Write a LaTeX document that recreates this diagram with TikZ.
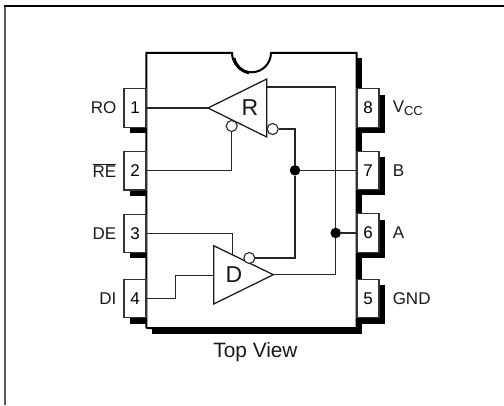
\documentclass[tikz,border=0pt]{standalone}
\usepackage{fontspec}
\setmainfont{Liberation Sans}
\usetikzlibrary{positioning}
\tikzset{
  pin/.style={draw=black!80, fill=white, line width=1.1pt, inner sep=0pt, minimum width=22pt, minimum height=38.5pt, font=\fontsize{17}{18}\selectfont},
  pinname/.style={inner sep=0pt, text=black!90, font=\fontsize{17}{18}\selectfont},
  amp/.style={inner sep=0pt, text=black!90, font=\fontsize{23}{24}\selectfont},
  bubble/.style={circle, draw=black!85, fill=white, line width=1.1pt, inner sep=0pt, minimum size=11pt},
  junction/.style={circle, fill=black, inner sep=0pt, minimum size=10.5pt},
  wire/.style={draw=black!85, line width=1.25pt},
  gate/.style={draw=black!90, line width=1.25pt, line join=miter},
  shade/.style={fill=black}
}
\begin{document}
\begin{tikzpicture}[x=1pt,y=-1pt]
 \useasboundingbox (0,0) rectangle (504,405);
% frame
 \draw[black!65, line width=2pt] (5,405) -- (5,6);
 \draw[black, line width=1.5pt] (4,6) -- (504,6);
% package shadow
 \fill[shade] (356,58) rectangle (362,334);
 \fill[shade] (152,327) rectangle (362,334);
 \fill[shade] (130,127) rectangle (147,133);
 \fill[shade] (130,190) rectangle (147,195.5);
 \fill[shade] (130,252.5) rectangle (147,258);
 \fill[shade] (130,318) rectangle (147,323.5);
 \fill[shade] (357,95) rectangle (385,133);
 \fill[shade] (357,157) rectangle (385,195);
 \fill[shade] (357,220) rectangle (385,258);
 \fill[shade] (357,285) rectangle (385,324);
% package
 \draw[black, line width=2pt] (146.3,328) -- (146.3,52.8) -- (232,52.8)
   arc[start angle=180, end angle=0, radius=19.5] -- (356.7,52.8) -- (356.7,328) -- (146.3,328);
 \draw[black, line width=3pt] (234,58) arc[start angle=170, end angle=98, radius=18];
% pins
 \node[pin] (p1) at (135,108) {1};
 \node[pin] (p2) at (135,170.7) {2};
 \node[pin] (p3) at (135,233.5) {3};
 \node[pin] (p4) at (135,298.5) {4};
 \node[pin] (p8) at (368,108) {8};
 \node[pin] (p7) at (368,170.3) {7};
 \node[pin] (p6) at (368,233) {6};
 \node[pin] (p5) at (368,298.5) {5};
% pin names
 \node[pinname, left=7pt of p1] (ro) {RO};
 \node[pinname, left=7pt of p2] (re) {$\overline{\mbox{RE}}$};
 \node[pinname, left=7pt of p3] (de) {DE};
 \node[pinname, left=7pt of p4] (di) {DI};
 \node[pinname, right=13pt of p8] (vcc) {V\raisebox{-3pt}{\fontsize{13}{14}\selectfont CC}};
 \node[pinname, right=13pt of p7] (b) {B};
 \node[pinname, right=13pt of p6] (a) {A};
 \node[pinname, right=13pt of p5] (gnd) {GND};
 \node[font=\fontsize{20.8}{22}\selectfont, text=black!90, inner sep=0pt] (top) at (255.5,352.5) {Top View};
% receiver
 \coordinate (rtip) at (208,108);
 \coordinate (rtop) at (266.7,79);
 \coordinate (rbot) at (266.7,137);
 \coordinate (rsup) at (266.7,87);
 \draw[gate] (rtip) -- (rtop) -- (rbot) -- cycle;
 \node[amp] (r) at (250,108) {R};
 \node[bubble] (rre) at (231.7,126) {};
 \node[bubble] (rb) at (272.7,129) {};
% driver
 \coordinate (dtip) at (273.3,274.7);
 \coordinate (dtop) at (213.7,245.7);
 \coordinate (dbot) at (213.7,304);
 \coordinate (din) at (213.7,275.7);
 \coordinate (den) at (232.7,255);
 \draw[gate] (dtip) -- (dtop) -- (dbot) -- cycle;
 \node[amp] (d) at (234,275) {D};
 \node[bubble] (db) at (249.3,258) {};
% junctions
 \node[junction] (jb) at (295,170.3) {};
 \node[junction] (ja) at (335.7,233) {};
% wires
 \draw[wire] (p1.east) -- (rtip);
 \draw[wire] (p2.east) -| (rre.south);
 \draw[wire] (rb.east) -| (jb.north);
 \draw[wire] (jb) -- (p7.west);
 \draw[wire] (jb.south) |- (db.east);
 \draw[wire] (rsup) -| (ja.north);
 \draw[wire] (ja) -- (p6.west);
 \draw[wire] (ja.south) |- (dtip);
 \draw[wire] (p3.east) -| (den);
 \draw[wire] (p4.east) -- (175.7,298.5) |- (din);
\end{tikzpicture}
\end{document}
